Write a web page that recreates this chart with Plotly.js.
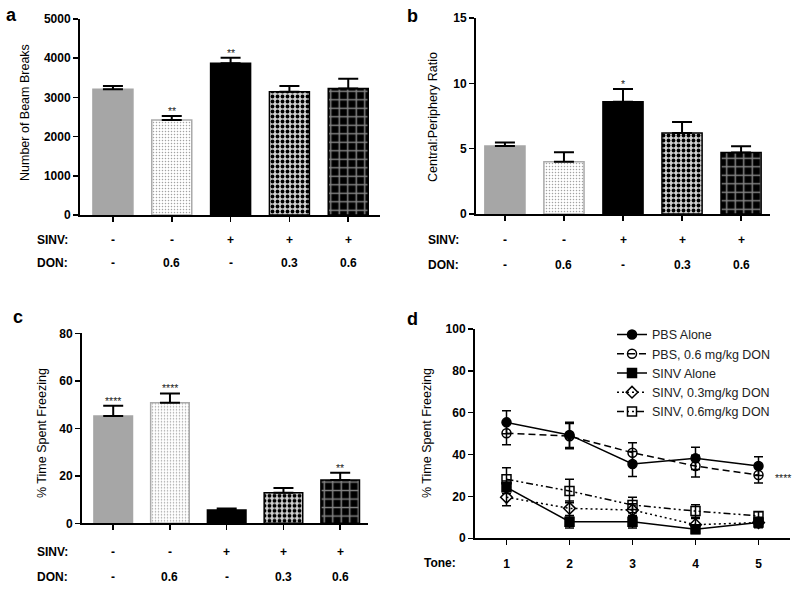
<!DOCTYPE html>
<html>
<head>
<meta charset="utf-8">
<script src="https://cdn.plot.ly/plotly-3.0.1.min.js"></script>
<style>
  html, body { margin: 0; padding: 0; background: #fff; }
  #chart { width: 800px; height: 589px; }
</style>
</head>
<body>
<div id="chart"></div>
<script>
    // Groups and the SINV / DON rows under the bar panels
    var groups = ['PBS', 'PBS + DON 0.6', 'SINV', 'SINV + DON 0.3', 'SINV + DON 0.6'];
    var sinvRow = ['-', '-', '+', '+', '+'];
    var donRow = ['-', '0.6', '-', '0.3', '0.6'];

    // Panel a
    var beamBreaks = [3207, 2423, 3870, 3145, 3230];
    var beamBreaksErr = [85, 100, 140, 145, 245];
    var beamBreaksSig = ['', '**', '**', '', ''];

    // Panel b
    var ratio = [5.2, 4.0, 8.6, 6.2, 4.7];
    var ratioErr = [0.27, 0.72, 0.97, 0.84, 0.48];
    var ratioSig = ['', '', '*', '', ''];

    // Panel c
    var freezing = [45.2, 50.8, 5.6, 12.9, 18.2];
    var freezingErr = [4.3, 3.9, 0.6, 2.0, 3.1];
    var freezingSig = ['****', '****', '', '', '**'];

    // Panel d
    var tones = [1, 2, 3, 4, 5];
    var seriesNames = ['PBS Alone', 'PBS, 0.6 mg/kg DON', 'SINV Alone', 'SINV, 0.3mg/kg DON', 'SINV, 0.6mg/kg DON'];
    var pbsAlone = [55.4, 49.4, 35.5, 38.2, 34.5];
    var pbsAloneErr = [5.5, 6.0, 6.0, 5.3, 4.5];
    var pbsDon = [50.2, 48.8, 40.9, 34.5, 30.2];
    var pbsDonErr = [5.5, 6.0, 4.8, 5.2, 3.8];
    var sinvAlone = [24.4, 7.9, 7.9, 4.3, 7.5];
    var sinvAloneErr = [3.0, 3.0, 3.0, 2.0, 2.5];
    var sinv03 = [19.6, 14.3, 13.5, 6.5, 7.5];
    var sinv03Err = [4.0, 3.5, 3.0, 3.0, 2.0];
    var sinv06 = [28.2, 22.6, 15.9, 13.0, 10.7];
    var sinv06Err = [5.5, 5.6, 3.7, 3.0, 2.0];

    var FONT = 'Liberation Sans, Arial, sans-serif';
    var BOLD = { family: FONT, size: 12, color: '#000', weight: 'bold' };

    // every bar gets a pattern; a scalar marker.color keeps the
    // per-point bg/fg colours from being overridden
    var barMarker = {
        color: '#000000',
        line: { color: ['#a6a6a6', '#aaaaaa', '#000000', '#000000', '#000000'], width: 1.5 },
        pattern: {
            shape: ['.', '.', '.', '.', '+'],
            fillmode: 'replace',
            bgcolor: ['#a6a6a6', '#ffffff', '#000000', '#d0d0d0', '#000000'],
            fgcolor: ['#a6a6a6', '#a0a0a0', '#000000', '#000000', '#858585'],
            fgopacity: 1,
            size: [6, 3, 6, 5, 8.5],
            solidity: [0.3, 0.2, 0.3, 0.45, 0.32]
        }
    };

    function barTrace(values, errs, xa, ya) {
        return {
            type: 'bar',
            x: groups,
            y: values,
            xaxis: xa,
            yaxis: ya,
            marker: barMarker,
            error_y: {
                type: 'data', symmetric: false, array: errs,
                arrayminus: errs.map(function() { return 0; }),
                color: '#000', thickness: 2, width: 10
            },
            showlegend: false,
            hoverinfo: 'skip'
        };
    }

    function lineTrace(name, values, errs, symbol, dash) {
        return {
            type: 'scatter',
            mode: 'lines+markers',
            name: name,
            x: tones,
            y: values,
            xaxis: 'x4',
            yaxis: 'y4',
            line: { color: '#000', width: 1.5, dash: dash },
            marker: { symbol: symbol, size: 9, color: '#000', line: { color: '#000', width: 1.5 } },
            error_y: { type: 'data', array: errs, color: '#000', thickness: 1.5, width: 4.5 },
            hoverinfo: 'skip'
        };
    }

    var data = [
        barTrace(beamBreaks, beamBreaksErr, 'x', 'y'),
        barTrace(ratio, ratioErr, 'x2', 'y2'),
        barTrace(freezing, freezingErr, 'x3', 'y3'),
        lineTrace(seriesNames[0], pbsAlone, pbsAloneErr, 'circle', 'solid'),
        lineTrace(seriesNames[1], pbsDon, pbsDonErr, 'circle-open', '7px,4px'),
        lineTrace(seriesNames[2], sinvAlone, sinvAloneErr, 'square', 'solid'),
        lineTrace(seriesNames[3], sinv03, sinv03Err, 'diamond-open', '2px,3px'),
        lineTrace(seriesNames[4], sinv06, sinv06Err, 'square-open', '7px,3px,2px,3px,2px,3px')
    ];

    function xAxis(domain, range, anchor, extra) {
        var ax = {
            domain: domain, range: range, anchor: anchor,
            showline: true, linecolor: '#000', linewidth: 2,
            ticks: 'outside', ticklen: 5, tickwidth: 1.5, tickcolor: '#000',
            showgrid: false, zeroline: false, showticklabels: false
        };
        return Object.assign(ax, extra || {});
    }

    function yAxis(domain, range, dtick, anchor) {
        return {
            domain: domain, range: range, dtick: dtick, anchor: anchor,
            showline: true, linecolor: '#000', linewidth: 2,
            ticks: 'outside', ticklen: 5, tickwidth: 1.5, tickcolor: '#000',
            showgrid: false, zeroline: false,
            tickfont: BOLD
        };
    }

    var annotations = [];

    function note(text, x, y, font, extra) {
        annotations.push(Object.assign({
            text: text, xref: 'paper', yref: 'paper', x: x, y: y,
            xanchor: 'center', yanchor: 'middle', showarrow: false, font: font
        }, extra || {}));
    }

    // panel letters
    var letterFont = { family: FONT, size: 18, color: '#000', weight: 'bold' };
    note('a', 0.0144, 0.975, letterFont);
    note('b', 0.516, 0.973, letterFont);
    note('c', 0.0230, 0.462, letterFont);
    note('d', 0.516, 0.459, letterFont);

    // y-axis titles
    var titleFont = { family: FONT, size: 12.5, color: '#000' };
    note('Number of Beam Breaks', 25 / 800, 1 - 113 / 589, titleFont, { textangle: -90 });
    note('Central:Periphery Ratio', 433 / 800, 1 - 117 / 589, titleFont, { textangle: -90 });
    note('% Time Spent Freezing', 42 / 800, 1 - 433 / 589, titleFont, { textangle: -90 });
    note('% Time Spent Freezing', 427 / 800, 1 - 433 / 589, titleFont, { textangle: -90 });

    // SINV / DON rows under each bar panel
    function rows(xa, labelX, sinvY, donY) {
        note('SINV:', labelX, sinvY, BOLD, { xanchor: 'left' });
        note('DON:', labelX, donY, BOLD, { xanchor: 'left' });
        groups.forEach(function(g, i) {
            note(sinvRow[i], g, sinvY, BOLD, { xref: xa });
            note(donRow[i], g, donY, BOLD, { xref: xa });
        });
    }
    rows('x', 0.04375, 0.5925, 0.5535);
    rows('x2', 0.533, 0.5925, 0.550);
    rows('x3', 0.04375, 0.0633, 0.0209);

    // significance stars above error bars
    var starFont = { family: FONT, size: 10.5, color: '#222' };
    function stars(xa, ya, values, errs, sig) {
        groups.forEach(function(g, i) {
            if (!sig[i]) return;
            note(sig[i], g, values[i] + errs[i], starFont,
                { xref: xa, yref: ya, yanchor: 'bottom', yshift: -3 });
        });
    }
    stars('x', 'y', beamBreaks, beamBreaksErr, beamBreaksSig);
    stars('x2', 'y2', ratio, ratioErr, ratioSig);
    stars('x3', 'y3', freezing, freezingErr, freezingSig);

    note('****', 5, 28.8, starFont, { xref: 'x4', yref: 'y4', xshift: 24 });
    note('Tone:', 0.527, 0.0441, BOLD, { xanchor: 'left' });

    var layout = {
        width: 800,
        height: 589,
        margin: { t: 0, r: 0, b: 0, l: 0 },
        paper_bgcolor: '#fff',
        plot_bgcolor: 'rgba(0,0,0,0)',
        font: { family: FONT, size: 12, color: '#000' },
        bargap: 0.32,
        xaxis: xAxis([0.1, 0.475], [-0.56, 4.54], 'y'),
        yaxis: yAxis([0.635, 0.9677], [0, 5000], 1000, 'x'),
        xaxis2: xAxis([0.595, 0.9625], [-0.49, 4.49], 'y2'),
        yaxis2: yAxis([0.6367, 0.9694], [0, 15], 5, 'x2'),
        xaxis3: xAxis([0.1025, 0.46], [-0.55, 4.49], 'y3'),
        yaxis3: yAxis([0.1115, 0.4341], [0, 80], 20, 'x3'),
        xaxis4: xAxis([0.59375, 0.9875], [0.5, 5.5], 'y4', {
            showticklabels: true, tickvals: tones, ticklabelstandoff: 8, tickfont: BOLD
        }),
        yaxis4: yAxis([0.0861, 0.4414], [0, 100], 20, 'x4'),
        legend: {
            x: 0.765, y: 0.457, xanchor: 'left', yanchor: 'top',
            bgcolor: 'rgba(0,0,0,0)', font: { family: FONT, size: 12.5, color: '#222' },
            itemwidth: 30, tracegroupgap: 0
        },
        annotations: annotations
    };

    Plotly.newPlot('chart', data, layout, { displayModeBar: false, staticPlot: true });
</script>
</body>
</html>
